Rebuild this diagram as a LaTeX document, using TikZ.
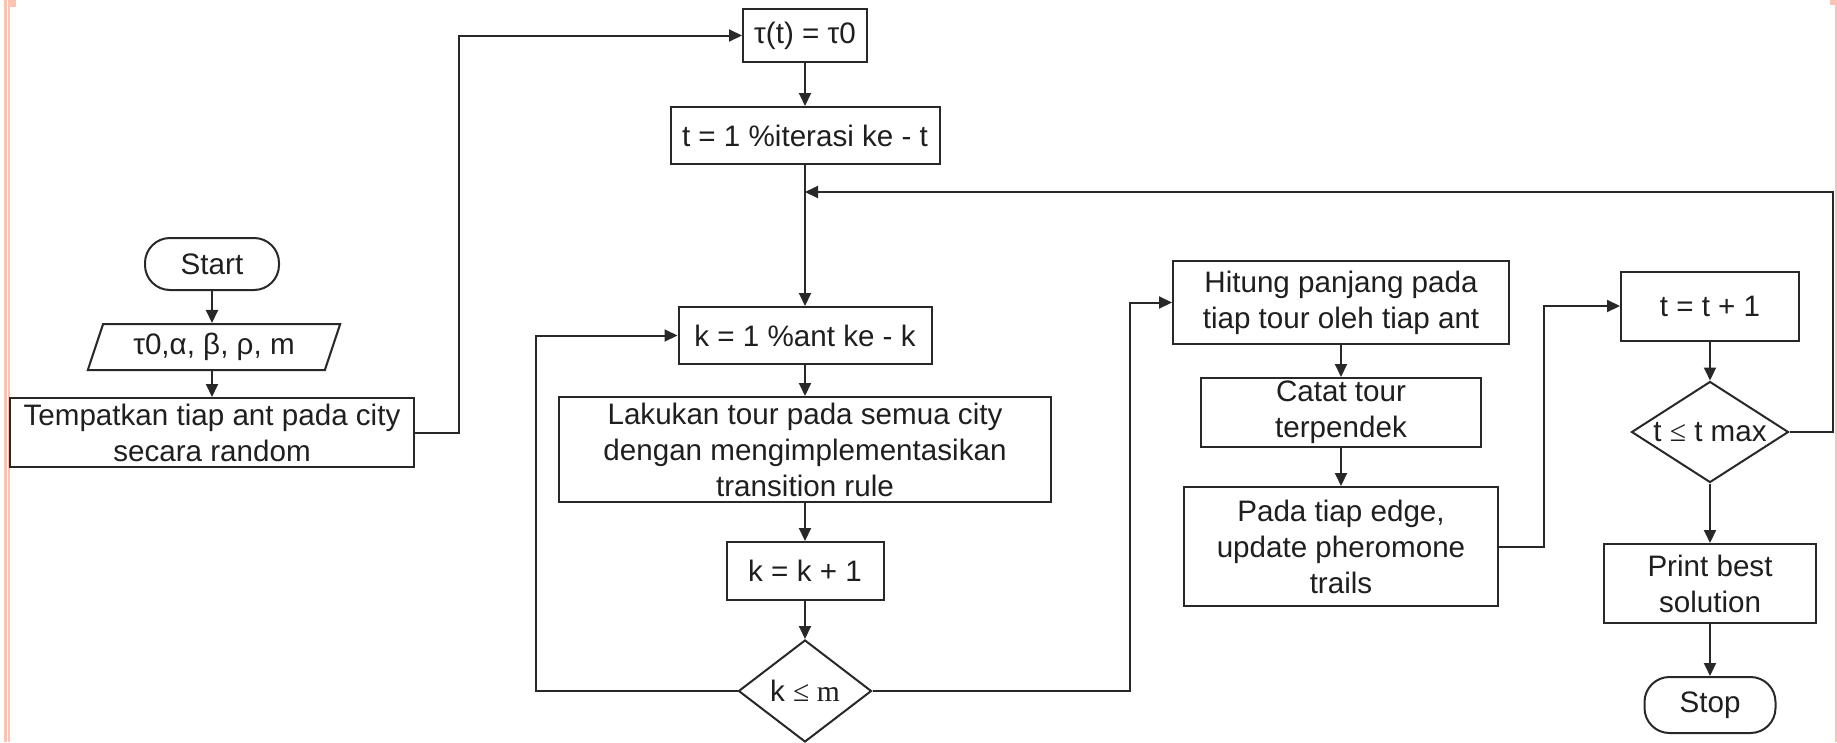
\documentclass[tikz,border=0pt]{standalone}
\usepackage{fontspec}
\setmainfont{Liberation Sans}
\newfontfamily\serifr{Liberation Serif}
\usetikzlibrary{arrows.meta,shapes.geometric}
\definecolor{pinkb}{RGB}{250,196,180}
\definecolor{ln}{RGB}{40,40,40}
\begin{document}
\begin{tikzpicture}[x=1pt,y=-1pt,
  every node/.style={font=\fontsize{29.6pt}{36pt}\selectfont, text=black!88, inner sep=0pt, align=center},
  box/.style={draw=ln, line width=2pt, rectangle},
  term/.style={box, rounded corners=25pt},
  dec/.style={draw=ln, line width=2pt, diamond},
  io/.style={draw=ln, line width=2pt, trapezium, trapezium left angle=68, trapezium right angle=112, trapezium stretches=true},
  conn/.style={draw=ln, line width=2pt},
  arr/.style={conn, -{Triangle[length=13pt,width=12pt]}}]
\useasboundingbox (0,0) rectangle (1837,742);
\fill[white] (0,0) rectangle (1837,742);
% slide border decoration
\fill[pinkb] (4,0) rectangle (6.5,742);
\fill[pinkb] (8.3,0) rectangle (10.3,742);
\fill[pinkb] (9,0) rectangle (16,7);
\fill[pinkb] (1834.5,4) rectangle (1837,742);
\fill[pinkb] (1830,0) rectangle (1837,5);
% left column
\node[term, minimum width=134pt, minimum height=52pt] (start) at (212,264) {Start};
\node[io, minimum width=253pt, minimum height=46pt] (io) at (214,347) {τ0,α, β, ρ, m};
\node[box, minimum width=404pt, minimum height=69pt] (temp) at (212,432.5) {Tempatkan tiap ant pada city\\secara random};
% centre column
\node[box, minimum width=124pt, minimum height=53pt] (tau) at (805,35.5) {τ(t) = τ0};
\node[box, minimum width=269pt, minimum height=57pt] (t1) at (805,135.5) {t = 1 \%iterasi ke - t};
\coordinate (join) at (805,192);
\node[box, minimum width=253pt, minimum height=57pt] (k1) at (805,335.5) {k = 1 \%ant ke - k};
\node[box, minimum width=492pt, minimum height=105pt] (lak) at (805,449.5) {Lakukan tour pada semua city\\dengan mengimplementasikan\\transition rule};
\node[box, minimum width=157pt, minimum height=58pt] (kk) at (805,571) {k = k + 1};
\node[dec, aspect=1.3, minimum width=133pt, minimum height=102pt] (dk) at (805,691) {k {\serifr ≤ m}};
% third column
\node[box, minimum width=336pt, minimum height=83pt] (hit) at (1341,302.5) {Hitung panjang pada\\tiap tour oleh tiap ant};
\node[box, minimum width=280pt, minimum height=69pt] (cat) at (1341,412.5) {Catat tour\\terpendek};
\node[box, minimum width=314pt, minimum height=119pt] (pada) at (1341,546.5) {Pada tiap edge,\\update pheromone\\trails};
% right column
\node[box, minimum width=178pt, minimum height=69pt] (tt) at (1710,306) {t = t + 1};
\node[dec, aspect=1.55, minimum width=157pt, minimum height=101pt] (dt) at (1710,432) {t {\serifr ≤} t max};
\node[box, minimum width=212pt, minimum height=79pt] (print) at (1710,583.5) {Print best\\solution};
\node[term, minimum width=131pt, minimum height=56pt] (stop) at (1710,705) {Stop};
% connectors
\draw[arr] (start.south) -- (start.south |- io.north);
\draw[arr] (temp.north |- io.south) -- (temp.north);
\draw[arr] (temp.east) -- ++(44,0) |- (tau.west);
\draw[arr] (tau) -- (t1);
\draw[arr] (t1) -- (k1);
\draw[arr] (k1) -- (lak);
\draw[arr] (lak) -- (kk);
\draw[arr] (kk) -- (dk);
\draw[arr] (dk.west) -- ++(-202,0) |- (k1.west);
\draw[arr] (dk.east) -- ++(257,0) |- (hit.west);
\draw[arr] (hit) -- (cat);
\draw[arr] (cat) -- (pada);
\draw[arr] (pada.east) -- ++(45,0) |- (tt.west);
\draw[arr] (tt) -- (dt);
\draw[arr] (dt) -- (print);
\draw[arr] (print) -- (stop);
\draw[arr] (dt.east) -- ++(43,0) |- (join);
\end{tikzpicture}
\end{document}
